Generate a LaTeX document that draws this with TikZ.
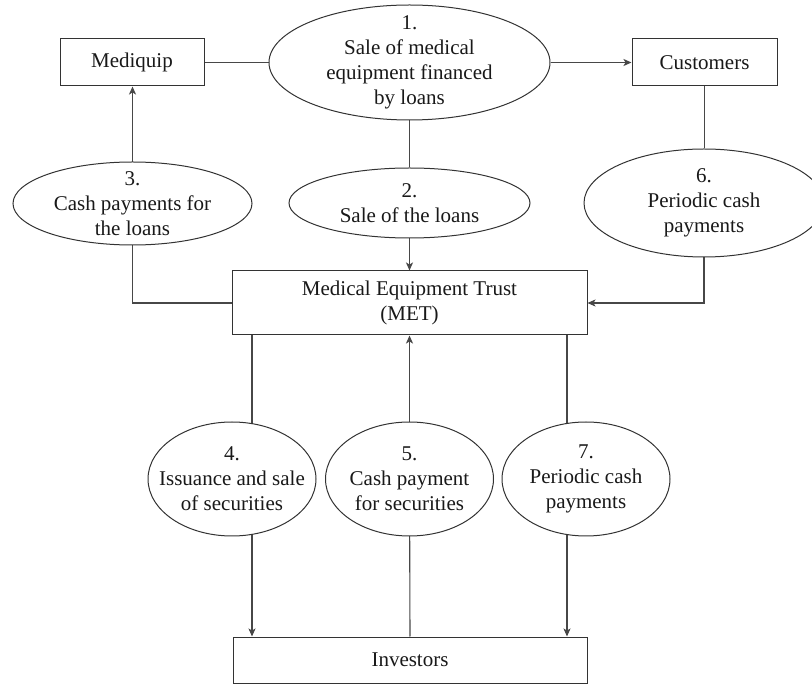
\documentclass[tikz,border=0pt]{standalone}
\usepackage{fontspec}
\setmainfont{Liberation Serif}
\usetikzlibrary{shapes.geometric,arrows.meta,backgrounds}
\begin{document}
\begin{tikzpicture}[x=1pt,y=-1pt,
  font=\fontsize{21}{25}\selectfont,
  box/.style={draw=black!80, line width=1pt, fill=white, inner sep=0pt, align=center, text=black!90},
  ell/.style={ellipse, draw=black!80, line width=1pt, fill=white, inner sep=0pt},
  txt/.style={align=center, inner sep=0pt, text=black!90},
  conn/.style={draw=black!72, line width=1.1pt},
  arr/.style={conn, -{Stealth[length=8pt,width=7pt,inset=2pt]}}
]
\useasboundingbox (0,0) rectangle (812,684);

% top row
\node[box, minimum width=144pt, minimum height=47pt] (med) at (132,62.5) {Mediquip};
\node[box, minimum width=145pt, minimum height=47pt] (cust) at (704.5,62.5) {Customers};
\node[ell, minimum width=281pt, minimum height=115pt] (e1) at (409.5,62.5) {};
\node[txt] (t1) at (e1) {1.\\Sale of medical\\equipment financed\\by loans};

% middle row ellipses
\node[ell, minimum width=241pt, minimum height=70pt] (e2) at (409.5,203) {};
\node[txt] (t2) at (e2) {2.\\Sale of the loans};
\node[ell, minimum width=239pt, minimum height=83pt] (e3) at (132.5,203.5) {};
\node[txt] (t3) at (e3) {3.\\Cash payments for\\the loans};
\node[ell, minimum width=240pt, minimum height=108pt] (e6) at (704,203) {};
\node[txt] (t6) at (e6) {6.\\Periodic cash\\payments};

% trust
\node[box, minimum width=355pt, minimum height=64pt] (met) at (409.5,303) {Medical Equipment Trust\\(MET)};

% lower ellipses
\node[ell, minimum width=168pt, minimum height=114pt] (e4) at (232,479) {};
\node[txt] (t4) at (e4) {4.\\Issuance and sale\\of securities};
\node[ell, minimum width=168pt, minimum height=114pt] (e5) at (409.5,479) {};
\node[txt] (t5) at (e5) {5.\\Cash payment\\for securities};
\node[ell, minimum width=168pt, minimum height=114pt] (e7) at (586,479) {};
\node[txt] (t7) at (e7) {7.\\Periodic cash\\payments};

% investors
\node[box, minimum width=354pt, minimum height=46pt] (inv) at (410,660) {Investors};

\coordinate (x4) at (252,0);
\coordinate (x7) at (567,0);

\begin{scope}[on background layer]
\draw[conn] (med.east) -- (e1.west);
\draw[arr] (e1.east) -- (cust.west);
\draw[conn] (e1.south) -- (e2.north);
\draw[arr] (e2.south) -- (met.north);
\draw[arr] (e3.center) -- (e3.center |- med.south);
\draw[conn] (e3.center) |- (met.west);
\draw[conn] (cust.south) -- (cust.south |- e6.north);
\draw[arr] (e6.center) |- (met.east);
\draw[conn] (met.south -| x4) -- (x4 |- e4.center);
\draw[arr] (x4 |- e4.center) -- (x4 |- inv.north);
\draw[arr] (e5.center) -- (met.south);
\draw[conn] (e5.center) -- (inv.north);
\draw[conn] (met.south -| x7) -- (x7 |- e7.center);
\draw[arr] (x7 |- e7.center) -- (x7 |- inv.north);
\end{scope}
\end{tikzpicture}
\end{document}
